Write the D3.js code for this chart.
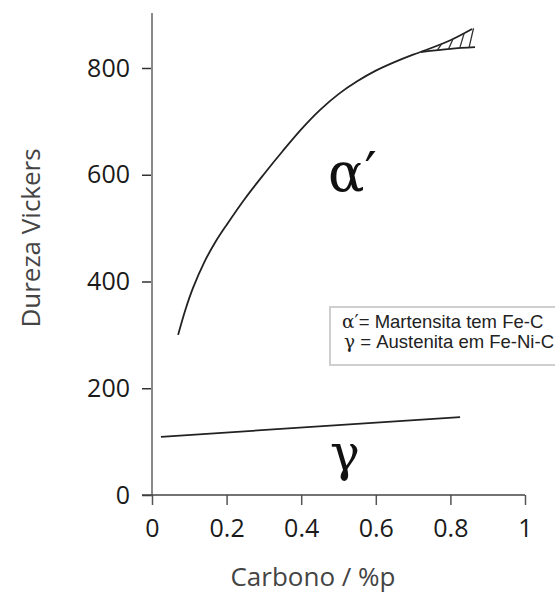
<!DOCTYPE html>
<html>
<head>
<meta charset="utf-8">
<script src="https://cdn.jsdelivr.net/npm/d3@7"></script>
<style>
  body { margin: 0; background: #fff; }
  svg { display: block; }
</style>
</head>
<body>
<svg id="chart" width="555" height="598"></svg>
<script>
// martensite curve (alpha'), single trunk then it splits in two branches
var alphaC = [0.07, 0.09, 0.11, 0.14, 0.17, 0.20, 0.25, 0.30, 0.35, 0.40, 0.45, 0.50, 0.55, 0.60, 0.65, 0.70, 0.72];
var alphaHV = [300, 348, 388, 436, 474, 506, 556, 601, 644, 685, 721, 751, 775, 795, 811, 825, 830];
var upperC = [0.72, 0.80, 0.858];
var upperHV = [830, 852, 873];
var lowerC = [0.72, 0.80, 0.866];
var lowerHV = [830, 836, 839];
// hatch strokes between the two branches
var hatchC = [0.765, 0.795, 0.825, 0.85];
// austenite (gamma)
var gammaC = [0.024, 0.826];
var gammaHV = [109, 146];

var xTicks = [0, 0.2, 0.4, 0.6, 0.8, 1];
var yTicks = [0, 200, 400, 600, 800];

var svg = d3.select('#chart');
var x = d3.scaleLinear().domain([0, 1]).range([152, 525]);
var y = d3.scaleLinear().domain([0, 800]).range([495, 68]);

function zip(a, b) {
	return a.map(function(v, i) { return [v, b[i]]; });
}

// y axis
var yAxis = d3.axisLeft(y).tickValues(yTicks).tickSize(10).tickPadding(12);
var gy = svg.append('g').attr('transform', 'translate(' + x(0) + ',0)').call(yAxis);
gy.select('.domain').remove();
gy.append('line')
	.attr('x1', 0).attr('x2', 0)
	.attr('y1', y(0) + 1).attr('y2', y(903))
	.attr('stroke', '#8a8a8a').attr('stroke-width', 2);
gy.selectAll('.tick line').attr('stroke', '#333').attr('stroke-width', 1.5);
gy.selectAll('.tick text')
	.attr('fill', '#1a1a1a')
	.style('font-family', 'Open Sans')
	.style('font-size', '25px');

// x axis
var xAxis = d3.axisBottom(x).tickValues(xTicks).tickSize(10).tickPadding(14)
	.tickFormat(function(d) { return d === 0 || d === 1 ? d : d.toFixed(1); });
var gx = svg.append('g').attr('transform', 'translate(0,' + y(0) + ')').call(xAxis);
gx.select('.domain').remove();
gx.append('line')
	.attr('x1', x(0) - 10).attr('x2', x(1))
	.attr('y1', 0).attr('y2', 0)
	.attr('stroke', '#444').attr('stroke-width', 1.5);
gx.selectAll('.tick line').attr('stroke', '#555').attr('stroke-width', 1.5);
gx.selectAll('.tick text')
	.attr('fill', '#1a1a1a')
	.style('font-family', 'Open Sans')
	.style('font-size', '25px');

// axis titles
svg.append('text')
	.attr('transform', 'translate(30,' + 238 + ') rotate(-90)')
	.attr('text-anchor', 'middle')
	.attr('dominant-baseline', 'central')
	.attr('fill', '#444')
	.style('font-family', 'Open Sans')
	.style('font-size', '26px')
	.text('Dureza Vickers');

svg.append('text')
	.attr('x', 313).attr('y', 586)
	.attr('text-anchor', 'middle')
	.attr('fill', '#444')
	.style('font-family', 'Open Sans')
	.style('font-size', '26px')
	.text('Carbono / %p');

// curves
var line = d3.line()
	.x(function(d) { return x(d[0]); })
	.y(function(d) { return y(d[1]); })
	.curve(d3.curveCatmullRom.alpha(0.5));

var curves = [zip(alphaC, alphaHV), zip(upperC, upperHV), zip(lowerC, lowerHV), zip(gammaC, gammaHV)];
svg.selectAll('path.curve')
	.data(curves)
	.enter()
	.append('path')
	.attr('class', 'curve')
	.attr('d', line)
	.attr('fill', 'none')
	.attr('stroke', '#222')
	.attr('stroke-width', 1.8);

var upInterp = d3.scaleLinear().domain(upperC).range(upperHV);
var loInterp = d3.scaleLinear().domain(lowerC).range(lowerHV);
svg.selectAll('line.hatch')
	.data(hatchC)
	.enter()
	.append('line')
	.attr('class', 'hatch')
	.attr('x1', function(d) { return x(d); })
	.attr('y1', function(d) { return y(loInterp(d)); })
	.attr('x2', function(d) { return x(d + 0.012); })
	.attr('y2', function(d) { return y(upInterp(d + 0.012)); })
	.attr('stroke', '#333')
	.attr('stroke-width', 1.3);

// phase labels
svg.append('text')
	.attr('x', 328).attr('y', 191)
	.attr('fill', '#111')
	.style('font-family', 'DejaVu Serif')
	.style('font-size', '54px')
	.text('\u03b1\u2032');

svg.append('text')
	.attr('x', 345).attr('y', 470)
	.attr('text-anchor', 'middle')
	.attr('fill', '#111')
	.style('font-family', 'DejaVu Serif')
	.style('font-size', '50px')
	.text('\u03b3');

// legend box
var lg = svg.append('g').attr('transform', 'translate(330,307)');
lg.append('rect')
	.attr('width', 240).attr('height', 58)
	.attr('fill', '#fff')
	.attr('stroke', '#cfcfcf')
	.attr('stroke-width', 2);
var t1 = lg.append('text').attr('x', 12).attr('y', 21)
	.attr('fill', '#222')
	.style('font-family', 'Liberation Sans')
	.style('font-size', '18.5px');
t1.append('tspan').style('font-family', 'DejaVu Serif').style('font-size', '18.5px').text('\u03b1\u2032');
t1.append('tspan').text('= Martensita tem Fe-C');
var t2 = lg.append('text').attr('x', 14).attr('y', 41)
	.attr('fill', '#222')
	.style('font-family', 'Liberation Sans')
	.style('font-size', '18.5px');
t2.append('tspan').style('font-family', 'DejaVu Serif').text('\u03b3');
t2.append('tspan').text(' = Austenita em Fe-Ni-C');
</script>
</body>
</html>
